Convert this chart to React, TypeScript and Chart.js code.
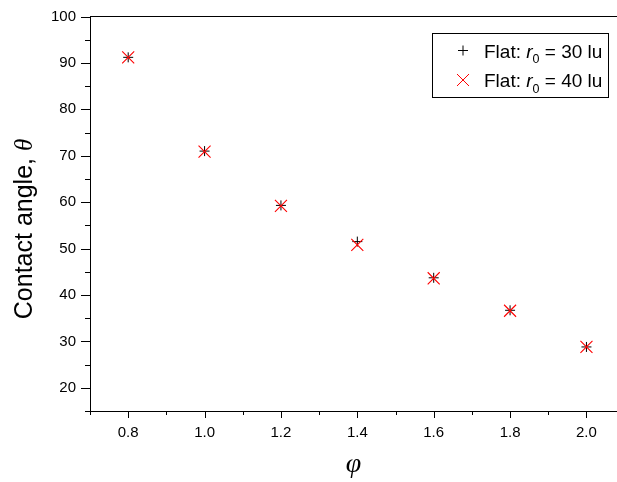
import React, { useEffect, useRef } from 'react';
import { Chart, registerables } from 'chart.js';

Chart.register(...registerables);

const phiValues = [0.8, 1.0, 1.2, 1.4, 1.6, 1.8, 2.0];
const angleR30 = [91.2, 71.0, 59.3, 51.5, 43.7, 36.7, 28.8];
const angleR40 = [91.2, 70.9, 59.2, 50.8, 43.6, 36.6, 28.8];
const seriesLabels = ['Flat: r0 = 30 lu', 'Flat: r0 = 40 lu'];
const legendSuffixes = [' = 30 lu', ' = 40 lu'];
const seriesColors = ['#000000', '#ff0000'];
const yAxisTitle = 'Contact angle, ';
const yAxisSymbol = 'θ';
const xAxisTitle = 'φ';

const SANS = '"Liberation Sans", Arial, sans-serif';
const SERIF = '"Liberation Serif", "Times New Roman", serif';

const isMajorX = (v: number) => Math.abs(v * 5 - Math.round(v * 5)) < 1e-6;
const isMajorY = (v: number) => Math.abs(v / 10 - Math.round(v / 10)) < 1e-6;

const decorPlugin = {
  id: 'decor',
  afterDraw(chart: any) {
    const ctx = chart.ctx as CanvasRenderingContext2D;
    const { left, right, top, bottom } = chart.chartArea;
    ctx.save();
    ctx.strokeStyle = '#000';
    ctx.lineWidth = 1;
    const xs = chart.scales.x;
    xs.ticks.forEach((t: any) => {
      const v = t.value;
      if (v < xs.min - 1e-9 || v > xs.max + 1e-9) return;
      const px = Math.round(xs.getPixelForValue(v)) + 0.5;
      ctx.beginPath();
      ctx.moveTo(px, bottom);
      ctx.lineTo(px, bottom + (isMajorX(v) ? 7 : 4));
      ctx.stroke();
    });
    const ys = chart.scales.y;
    ys.ticks.forEach((t: any) => {
      const v = t.value;
      if (v < ys.min - 1e-9 || v > ys.max + 1e-9) return;
      const py = Math.round(ys.getPixelForValue(v)) + 0.5;
      ctx.beginPath();
      ctx.moveTo(left, py);
      ctx.lineTo(left - (isMajorY(v) ? 9 : 5), py);
      ctx.stroke();
    });

    // y title (mixed fonts)
    ctx.fillStyle = '#000';
    ctx.textBaseline = 'alphabetic';
    ctx.textAlign = 'left';
    const f1 = `25px ${SANS}`;
    const f2 = `italic 25px ${SERIF}`;
    ctx.font = f1;
    const w1 = ctx.measureText(yAxisTitle).width;
    ctx.font = f2;
    const w2 = ctx.measureText(yAxisSymbol).width;
    const cy = 229;
    ctx.save();
    ctx.translate(32, cy);
    ctx.rotate(-Math.PI / 2);
    ctx.font = f1;
    ctx.fillText(yAxisTitle, -(w1 + w2) / 2, 0);
    ctx.font = f2;
    ctx.fillText(yAxisSymbol, -(w1 + w2) / 2 + w1, 0);
    ctx.restore();

    // x title
    ctx.font = `italic 28px ${SERIF}`;
    ctx.textAlign = 'center';
    ctx.fillText(xAxisTitle, (left + right) / 2, 472);

    // legend
    const bx = right - 185;
    const by = top + 16;
    const bw = 176;
    const bh = 64;
    ctx.strokeStyle = '#000';
    ctx.strokeRect(Math.round(bx) + 0.5, Math.round(by) + 0.5, bw, bh);
    chart.data.datasets.forEach((ds: any, i: number) => {
      const rowY = by + 18 + i * 29.5;
      const mx = bx + 31;
      ctx.strokeStyle = seriesColors[i];
      ctx.lineWidth = 1;
      ctx.beginPath();
      if (ds.pointStyle === 'cross') {
        ctx.moveTo(mx - 5, rowY);
        ctx.lineTo(mx + 5, rowY);
        ctx.moveTo(mx, rowY - 5);
        ctx.lineTo(mx, rowY + 5);
      } else {
        ctx.moveTo(mx - 6, rowY - 6);
        ctx.lineTo(mx + 6, rowY + 6);
        ctx.moveTo(mx - 6, rowY + 6);
        ctx.lineTo(mx + 6, rowY - 6);
      }
      ctx.stroke();
      ctx.fillStyle = '#000';
      ctx.textAlign = 'left';
      const base = rowY + 7;
      let tx = bx + 52;
      ctx.font = `19px ${SANS}`;
      ctx.fillText('Flat: ', tx, base);
      tx += ctx.measureText('Flat: ').width;
      ctx.font = `italic 19px ${SANS}`;
      ctx.fillText('r', tx, base);
      tx += ctx.measureText('r').width;
      ctx.font = `12.5px ${SANS}`;
      ctx.fillText('0', tx, base + 5.5);
      tx += ctx.measureText('0').width;
      ctx.font = `19px ${SANS}`;
      ctx.fillText(legendSuffixes[i], tx, base);
    });
    ctx.restore();
  },
};

const zeroPad = (s: any) => {
  s.paddingLeft = 0;
  s.paddingRight = 0;
  s.paddingTop = 0;
  s.paddingBottom = 0;
};

export default function App() {
  const ref = useRef<HTMLCanvasElement | null>(null);
  useEffect(() => {
    if (!ref.current) return;
    const chart = new Chart(ref.current, {
      type: 'scatter',
      data: {
        datasets: [
          {
            label: seriesLabels[0],
            data: phiValues.map((x, i) => ({ x, y: angleR30[i] })),
            pointStyle: 'cross',
            pointRadius: 5,
            pointBorderWidth: 1,
            borderColor: seriesColors[0],
            backgroundColor: seriesColors[0],
            pointBorderColor: seriesColors[0],
            pointBackgroundColor: seriesColors[0],
            showLine: false,
            order: 2,
          },
          {
            label: seriesLabels[1],
            data: phiValues.map((x, i) => ({ x, y: angleR40[i] })),
            pointStyle: 'crossRot',
            pointRadius: 8.5,
            pointBorderWidth: 1.1,
            borderColor: seriesColors[1],
            backgroundColor: seriesColors[1],
            pointBorderColor: seriesColors[1],
            pointBackgroundColor: seriesColors[1],
            showLine: false,
            order: 1,
          },
        ],
      },
      options: {
        responsive: false,
        animation: false,
        layout: { padding: 0, autoPadding: false },
        plugins: { legend: { display: false }, tooltip: { enabled: false } },
        scales: {
          x: {
            type: 'linear',
            position: 'bottom',
            min: 0.7,
            max: 2.08,
            grid: { drawOnChartArea: false, drawTicks: false },
            border: { color: '#000', width: 1 },
            ticks: {
              stepSize: 0.1,
              includeBounds: false,
              autoSkip: false,
              maxRotation: 0,
              padding: 13,
              color: '#000',
              font: { family: SANS, size: 15 },
              callback: (value: any) => {
                const v = Number(value);
                return isMajorX(v) ? v.toFixed(1) : '';
              },
            },
            afterFit: (s: any) => {
              s.height = 71;
              zeroPad(s);
            },
          },
          x2: {
            type: 'linear',
            position: 'top',
            min: 0.7,
            max: 2.08,
            grid: { drawOnChartArea: false, drawTicks: false },
            border: { color: '#000', width: 1 },
            ticks: { display: false },
            afterFit: (s: any) => {
              s.height = 16.5;
              zeroPad(s);
            },
          },
          y: {
            type: 'linear',
            position: 'left',
            min: 15,
            max: 100,
            grid: { drawOnChartArea: false, drawTicks: false },
            border: { color: '#000', width: 1 },
            ticks: {
              stepSize: 5,
              autoSkip: false,
              padding: 14,
              color: '#000',
              font: { family: SANS, size: 15 },
              callback: (value: any) => {
                const v = Number(value);
                return isMajorY(v) ? String(v) : '';
              },
            },
            afterFit: (s: any) => {
              s.width = 90;
              zeroPad(s);
            },
          },
        },
      },
      plugins: [decorPlugin],
    });
    return () => chart.destroy();
  }, []);
  return (
    <div style={{ position: 'fixed', left: 0, top: 0, width: 617, height: 482, background: '#fff' }}>
      <canvas ref={ref} width={617} height={482} />
    </div>
  );
}
